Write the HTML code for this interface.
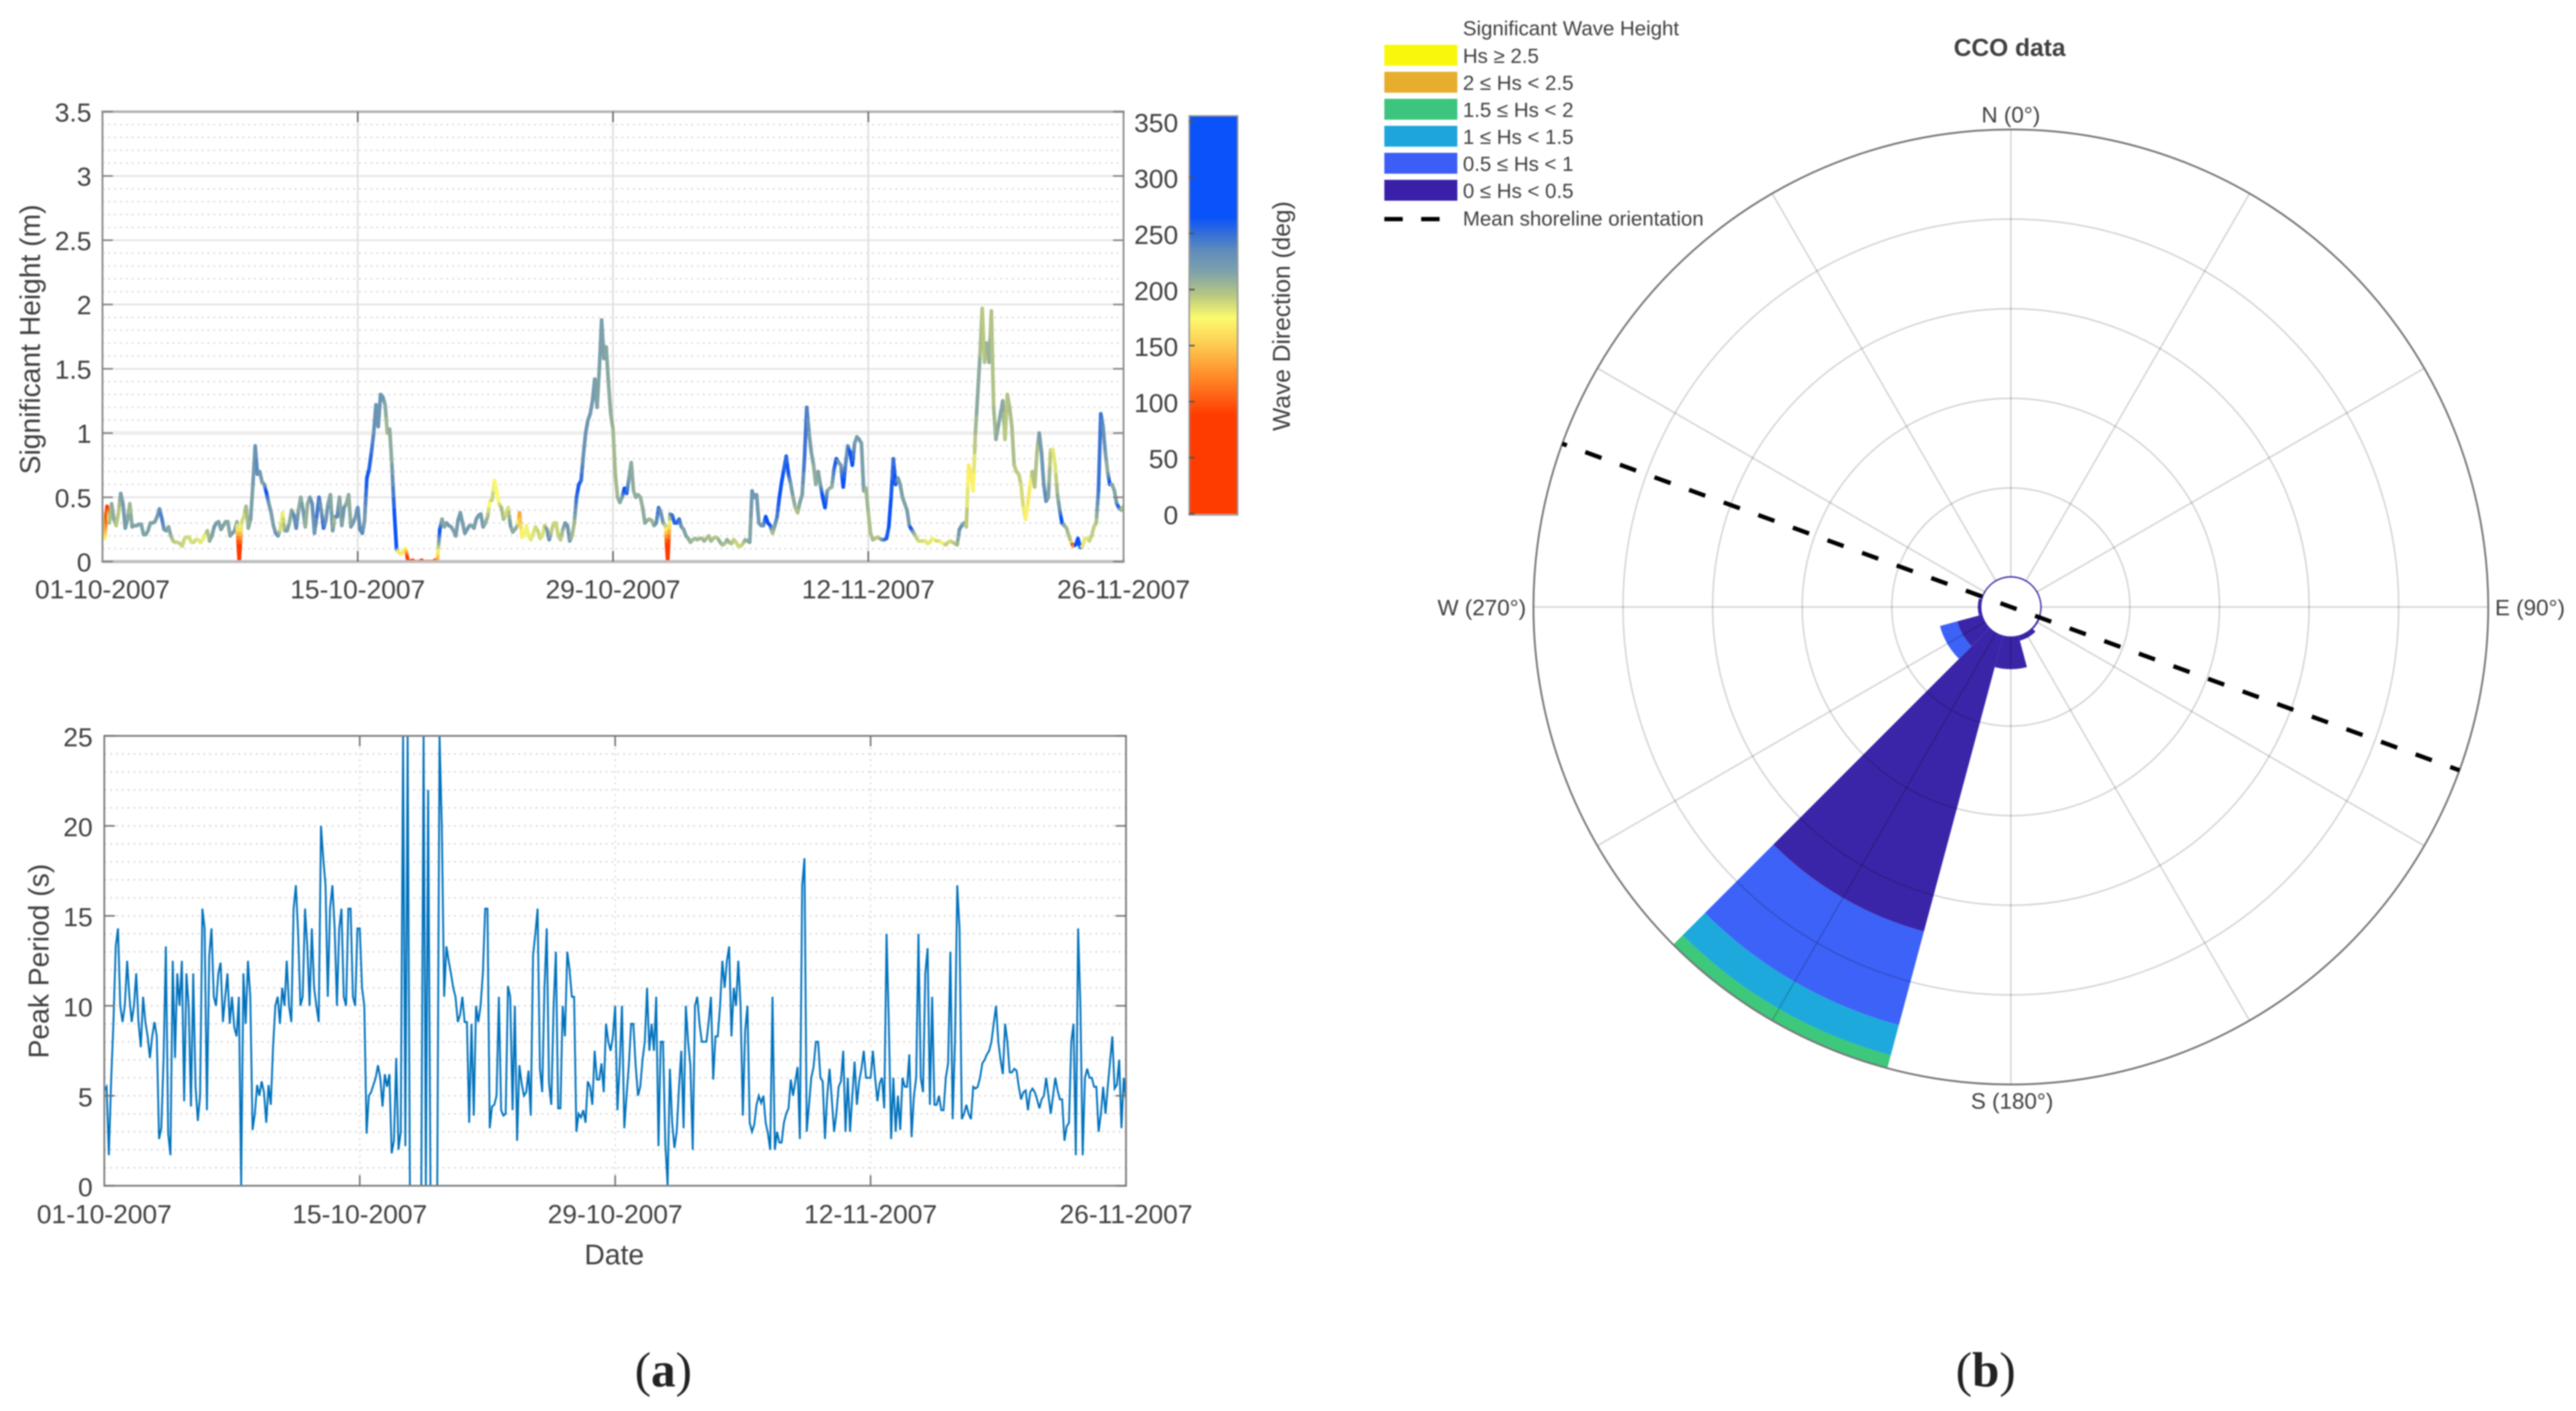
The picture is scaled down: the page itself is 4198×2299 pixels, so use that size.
<!DOCTYPE html>
<html lang="en">
<head>
<meta charset="utf-8">
<title>Wave time series and CCO wave rose</title>
<style>
html,body{margin:0;padding:0;background:#fff;width:4198px;height:2299px;overflow:hidden}
svg{display:block;font-family:"Liberation Sans",sans-serif;filter:blur(1.1px)}
text{fill:#404040}
.central{dominant-baseline:central}
</style>
</head>
<body>
<svg xmlns="http://www.w3.org/2000/svg" width="4198" height="2299" viewBox="0 0 4198 2299">
<defs>
<clipPath id="clipA"><rect x="167" y="182" width="1664" height="733"/></clipPath>
<clipPath id="clipB"><rect x="170" y="1199" width="1665" height="733"/></clipPath>
</defs>
<g id="chartA"></g>
<g id="colorbar"></g>
<g id="chartB"></g>
<g id="rose"></g>
<g id="legend"></g>
<text x="1081" y="2233" class="central" text-anchor="middle" style="font-family:'Liberation Serif',serif;font-size:80px;fill:#222">(<tspan font-weight="bold">a</tspan>)</text>
<text x="3236" y="2233" class="central" text-anchor="middle" style="font-family:'Liberation Serif',serif;font-size:80px;fill:#222">(<tspan font-weight="bold">b</tspan>)</text>
</svg>
<script>
// ---------- chart data ----------
const spanDays = 56;
const samplesPerDay = 8;
const dateTickDays = [0, 14, 28, 42, 56];
const dateTickLabels = ['01-10-2007', '15-10-2007', '29-10-2007', '12-11-2007', '26-11-2007'];
const hsTicks = [0, 0.5, 1, 1.5, 2, 2.5, 3, 3.5];
const tpTicks = [0, 5, 10, 15, 20, 25];
const dirTicks = [0, 50, 100, 150, 200, 250, 300, 350];

const hsValues = [
.38,.18,.43,.3,.45,.33,.28,.38,
.53,.45,.26,.33,.45,.27,.28,.28,
.29,.29,.21,.21,.24,.3,.3,.31,
.35,.41,.34,.25,.24,.27,.2,.16,
.15,.15,.14,.12,.18,.19,.19,.15,
.15,.17,.17,.15,.17,.21,.24,.16,
.2,.27,.3,.31,.25,.28,.31,.31,
.2,.22,.24,.31,0,.3,.35,.43,
.26,.33,.6,.9,.68,.7,.62,.6,
.53,.45,.38,.28,.22,.2,.25,.38,
.24,.24,.3,.4,.36,.26,.4,.5,
.4,.27,.45,.5,.45,.22,.35,.5,
.4,.26,.32,.45,.52,.24,.35,.35,
.5,.28,.42,.45,.52,.27,.3,.35,
.42,.25,.22,.32,.65,.72,.85,1,
1.22,1.05,1.3,1.28,1.22,1,1.03,.75,
.4,.1,.07,.06,.08,.1,.01,0,
.01,0,0,0,.01,0,0,0,
0,0,.01,.02,.25,.33,.27,.3,
.28,.27,.24,.2,.32,.38,.3,.22,
.25,.28,.28,.26,.33,.36,.37,.27,
.3,.35,.47,.48,.63,.55,.45,.42,
.33,.37,.42,.28,.23,.25,.28,.38,
.19,.2,.28,.2,.17,.22,.27,.24,
.18,.2,.28,.25,.17,.24,.3,.3,
.2,.17,.25,.3,.28,.16,.2,.3,
.5,.6,.63,.83,1,1.1,1.15,1.25,
1.42,1.2,1.5,1.88,1.58,1.67,1.39,1.15,
1.03,.68,.5,.46,.5,.57,.53,.65,
.77,.55,.5,.52,.5,.42,.3,.32,
.33,.32,.28,.3,.42,.38,.3,.28,
0,.37,.36,.3,.3,.33,.27,.25,
.2,.18,.15,.17,.18,.17,.18,.18,
.16,.18,.2,.16,.18,.19,.18,.15,
.13,.14,.17,.15,.14,.17,.15,.12,
.12,.14,.17,.16,.15,.55,.5,.52,
.3,.28,.28,.35,.3,.28,.22,.28,
.35,.5,.62,.72,.82,.68,.6,.5,
.42,.38,.46,.52,.8,1.2,1,.85,
.75,.6,.7,.6,.5,.42,.55,.57,
.58,.72,.8,.77,.75,.58,.75,.9,
.85,.75,.92,.97,.95,.92,.55,.57,
.38,.22,.17,.18,.19,.18,.17,.17,
.18,.27,.5,.8,.6,.65,.6,.5,
.45,.4,.28,.25,.22,.19,.16,.16,
.16,.16,.14,.15,.18,.17,.16,.16,
.15,.14,.13,.15,.16,.15,.14,.13,
.25,.28,.3,.27,.75,.7,.55,1,
1.3,1.6,1.97,1.55,1.7,1.55,1.95,1.2,
.95,1.05,1.15,1.25,.95,1.3,1.2,1.05,
.75,.7,.68,.6,.42,.33,.45,.6,
.7,.58,.85,1,.85,.6,.47,.5,
.87,.87,.75,.52,.4,.3,.28,.26,
.2,.15,.12,.13,.18,.11,.12,.18,
.18,.16,.2,.27,.3,.55,1.15,1.05,
.85,.7,.6,.6,.55,.45,.42,.4,
.43];

const dirValues = [
195,175,60,195,205,215,200,190,
215,220,225,215,200,215,220,215,
215,215,215,215,215,215,215,215,
220,225,245,230,220,215,210,195,
195,190,190,195,185,190,190,185,
185,190,185,180,185,175,195,205,
215,220,225,215,215,215,215,210,
215,215,220,215,0,190,185,200,
205,215,220,225,240,225,220,215,
270,225,220,215,225,235,190,175,
205,220,215,205,230,240,215,205,
225,210,205,215,235,220,240,250,
220,255,230,220,210,225,195,240,
215,210,230,215,205,215,225,215,
230,235,240,215,265,260,250,235,
225,230,225,230,215,200,205,215,
260,270,160,170,160,185,60,0,
0,0,0,0,0,0,0,0,
0,0,0,130,270,215,210,215,
225,220,215,215,225,225,215,225,
220,225,215,215,220,225,215,225,
210,205,170,195,175,170,180,195,
205,190,180,225,205,215,205,130,
175,180,175,180,180,185,185,190,
190,185,185,215,235,195,190,185,
195,190,205,220,225,225,205,200,
250,265,255,225,230,225,220,225,
220,215,215,220,215,215,210,210,
205,200,205,210,215,270,260,220,
210,210,205,215,205,210,210,215,
205,205,205,225,250,230,225,200,
0,210,245,260,250,255,230,215,
215,215,205,205,200,205,205,200,
205,205,195,205,200,195,195,210,
205,195,205,210,200,195,190,190,
190,190,205,210,210,225,225,225,
220,225,220,265,270,275,195,215,
240,265,275,260,250,265,225,215,
205,195,215,215,250,245,225,215,
215,205,215,215,270,280,225,205,
205,245,270,225,215,280,240,225,
265,270,225,215,225,220,215,205,
205,195,205,200,195,195,215,240,
255,265,265,245,270,225,220,215,
215,215,225,270,215,195,190,185,
190,185,180,185,180,175,185,190,
180,175,190,195,185,190,195,200,
225,235,220,200,165,170,165,200,
215,205,195,195,200,210,195,200,
205,215,210,215,190,200,195,205,
195,195,195,190,185,175,165,165,
195,200,195,215,225,225,240,220,
190,185,180,205,225,280,215,205,
200,195,60,270,280,280,185,180,
180,185,195,190,195,245,250,235,
225,205,270,215,210,225,265,210,
190];

const tpValues = [
5.3,5.5,1.7,5.8,9.1,13.3,14.3,10,
9.1,10,12.5,10.5,9.1,10,11.8,9.1,
7.7,10.5,9.1,8.3,7.1,8.3,9.1,8.3,
2.6,3.2,7.1,13.3,2.9,1.7,12.5,7.1,
11.8,10,12.5,4.7,11.8,10,4.4,11.8,
5.5,3.6,5,15.4,14.3,4.2,12.8,14.3,
10.5,10,11.8,12.4,9.1,10.5,11.8,9,
10.5,8.8,8.3,10.5,0,11.8,9,12.5,
10.5,3.1,4,5.6,5,5.8,5.2,3.5,
5.6,4.5,7.7,10,10.5,9,11,10,
12.5,10,9.1,15.4,16.7,14,10,10.5,
15.4,13.3,10,14.3,11,10,9.1,20,
18.2,16.7,10.5,15.4,16.7,14.3,10,14.3,
15.4,10.5,10,15.4,15.4,10.5,10,14.3,
14.3,11,10,2.9,5,5.2,5.6,6,
6.7,6,4.4,6.2,5.5,6.2,1.8,2.5,
7.1,2,3,25,2.2,25,0,0,
0,0,0,0,25,0,22,0,
0,0,0,25,20,10.5,13.3,12.5,
11.8,11,10.5,9.1,9.5,10.5,9.1,9.1,
3.5,9,3.9,10,9.1,10,11.8,15.4,
15.4,3.2,4.4,4.5,5,10.5,4.2,3.9,
4,11.1,10.5,4.2,10,2.5,6.7,5.7,
5,5.2,6.4,3.9,12.8,14,15.4,6.5,
5.2,11,14.3,5.7,4.5,10,13,4.3,
4.3,10,8.3,13,12,10.5,10.5,3,
4,3.8,4.2,3.5,5.8,5.5,4.5,7.5,
5.9,5.9,6.8,5.2,9,8,7.5,8.3,
10,4.2,6.7,10,3.2,5,6.7,9,
9,6.7,5,5.5,7,8,11,7.5,
9,7.5,10.5,2.2,8,8,2.3,0,
6.5,3.5,2.1,3,5.5,7.5,3.2,10,
8,6.7,2,10,10.5,9,8,8,
8,9.1,10.5,5.9,8.3,8.3,10,12.5,
11,12.5,13.3,8.3,11,10,12.5,10,
3.9,8.6,10,3.5,3,3.4,4.5,5,
4.6,5,3.5,2.9,2,10.5,2,3,
2.4,2.4,3.5,4,4.3,5.9,5,5.8,
6.6,2.6,16.7,18.2,3,4.5,6,6.6,
8,8,6,5.8,2.6,5,6.5,4.8,
3,4,5.5,5.8,7.5,3,6,3,
5,6.9,4.5,5.8,6.5,7.5,6,6,
6,7.5,6,4.7,5.7,6,4.3,14,
9,2.6,6,3,5,3.1,6,5.5,
5.5,7.3,2.7,5,6,14,6,5.2,
11.8,13.2,4.5,10.5,4.5,4.5,5,4.2,
4.2,6,6.8,13,3.7,8,16.7,14.3,
3.7,4,4.5,4,3.7,5.5,5.4,5.5,
6,6.8,7,7.3,7.5,8,9,10,
8,7,6.2,9,8,6.3,6.3,6.5,
6.4,5.5,4.8,5.2,5.3,4.2,5.2,5.4,
5.2,4.8,4.3,4.8,5,6,5,4,
5,6,5.3,4.8,4.8,2.5,3.3,3.5,
8,9,1.7,14.3,10,1.7,6,6.5,
6,6,5.5,5.5,3,4,5.5,4,
5.5,6.9,8.3,5.4,5.6,7,3.2,6,
4.8];

// wave rose: per-sector share of each height band (sector centre bearing, degrees)
const roseBearings = [0, 30, 60, 90, 120, 150, 180, 210, 240, 270, 300, 330];
const band0to05 = [.3, .3, .3, .3, .4, 1.2, 7.3, 68.4, 5.8, .8, .3, .3];
const band05to1 = [0, 0, 0, 0, 0, 0, 0, 21.6, 4, 0, 0, 0];
const band1to15 = [0, 0, 0, 0, 0, 0, 0, 7, 0, 0, 0, 0];
const band15to2 = [0, 0, 0, 0, 0, 0, 0, 3, 0, 0, 0, 0];
const roseSeries = [band0to05, band05to1, band1to15, band15to2];
const shorelineBearing = 290;
const roseRings = [20, 40, 60, 80];
const compassBearings = [0, 90, 180, 270];
const compassLabels = ['N (0°)', 'E (90°)', 'S (180°)', 'W (270°)'];
const legendTitle = 'Significant Wave Height';
const legendLabels = ['Hs ≥ 2.5', '2 ≤ Hs < 2.5', '1.5 ≤ Hs < 2', '1 ≤ Hs < 1.5', '0.5 ≤ Hs < 1', '0 ≤ Hs < 0.5'];

// ---------- scales ----------
const NS = 'http://www.w3.org/2000/svg';
const xA = d => 167 + d / spanDays * 1664;
const yA = v => 915 - v / 3.5 * 733;
const xB = d => 170 + d / spanDays * 1665;
const yB = v => 1932 - v / 25 * 733;
const yDir = v => 837 - v * 1.826;
const cx = 3277, cy = 989, rHub = 48, rOuter = 778;
const rScale = p => rHub + p * (rOuter - rHub) / 100;
const polar = (deg, r) => [cx + r * Math.sin(deg * Math.PI / 180), cy - r * Math.cos(deg * Math.PI / 180)];

const colorStops = [[0,[255,60,0]],[88,[255,60,0]],[108,[255,105,25]],[130,[255,155,50]],[152,[253,205,85]],[175,[251,251,110]],[195,[185,200,130]],[215,[128,163,168]],[235,[95,140,188]],[265,[10,82,250]],[360,[10,82,250]]];
function dirColor(v) {
  for (let i = 1; i < colorStops.length; i++) {
    if (v <= colorStops[i][0]) {
      const a = colorStops[i - 1], b = colorStops[i], t = (v - a[0]) / (b[0] - a[0]);
      return 'rgb(' + a[1].map((c, k) => Math.round(c + (b[1][k] - c) * t)).join(',') + ')';
    }
  }
  return 'rgb(10,82,250)';
}
function make(tag, parent, attrs, text) {
  const el = document.createElementNS(NS, tag);
  for (const k in attrs) el.setAttribute(k, attrs[k]);
  if (text !== undefined) el.textContent = text;
  parent.appendChild(el);
  return el;
}
function line(parent, x1, y1, x2, y2, stroke, width, dash) {
  const a = {x1: x1, y1: y1, x2: x2, y2: y2, stroke: stroke, 'stroke-width': width};
  if (dash) a['stroke-dasharray'] = dash;
  return make('line', parent, a);
}

// ---------- top chart ----------
const gA = document.getElementById('chartA');
for (let v = 0; v <= 35; v++) {
  if (v % 5 === 0) continue;
  const el = line(gA, 167, yA(v / 10), 1831, yA(v / 10), '#dcdcdc', 2.5, '3 6.5');
  
  
}
hsTicks.forEach(v => {
  const el = line(gA, 167, yA(v), 1831, yA(v), v === 1 ? '#eeeeee' : '#e6e6e6', v === 1 ? 6 : 3);
  
  
});
dateTickDays.slice(1, 4).forEach(d => {
  const el = line(gA, xA(d), 182, xA(d), 915, '#dddddd', 2.5);
  
  
});
const hsSeries = make('g', gA, {'clip-path': 'url(#clipA)', 'stroke-linecap': 'round', fill: 'none'});


for (let i = 0; i + 1 < hsValues.length; i++) {
  const d0 = dirValues[i], d1 = dirValues[i + 1];
  const parts = Math.max(1, Math.min(10, Math.ceil(Math.abs(d1 - d0) / 12)));
  for (let k = 0; k < parts; k++) {
    const t0 = k / parts, t1 = (k + 1) / parts;
    const day0 = (i + t0) / samplesPerDay, day1 = (i + t1) / samplesPerDay;
    const v0 = hsValues[i] + (hsValues[i + 1] - hsValues[i]) * t0;
    const v1 = hsValues[i] + (hsValues[i + 1] - hsValues[i]) * t1;
    const seg = line(hsSeries, xA(day0), yA(v0), xA(day1), yA(v1), dirColor(d0 + (d1 - d0) * (t0 + t1) / 2), 6);
    
    
  }
}
const frameA = make('g', gA, {});


line(frameA, 165, 182, 1833, 182, '#b0b0b0', 4);
line(frameA, 165, 915, 1833, 915, '#bdbdbd', 5);
line(frameA, 167, 182, 167, 915, '#8c8c8c', 3);
line(frameA, 1831, 182, 1831, 915, '#808080', 2.5);
hsTicks.forEach(v => {
  line(frameA, 167, yA(v), 184, yA(v), '#808080', 2.5);
  line(frameA, 1814, yA(v), 1831, yA(v), '#808080', 2.5);
  const el = make('text', gA, {x: 149, y: yA(v) + 2, 'text-anchor': 'end', class: 'central', 'font-size': 43}, String(v));
  
  
});
dateTickDays.forEach((d, i) => {
  if (i > 0 && i < 4) {
    line(frameA, xA(d), 182, xA(d), 199, '#666', 2.5);
    line(frameA, xA(d), 898, xA(d), 915, '#666', 2.5);
  }
  const el = make('text', gA, {x: xA(d), y: 961, 'text-anchor': 'middle', class: 'central', 'font-size': 43}, dateTickLabels[i]);
  
  
});
const titleA = make('text', gA, {transform: 'translate(49 553) rotate(-90)', 'text-anchor': 'middle', class: 'central', 'font-size': 46}, 'Significant Height (m)');



// ---------- colour bar ----------
const gC = document.getElementById('colorbar');
for (let v = 0; v < 355; v++) {
  const el = make('rect', gC, {x: 1938, y: yDir(v + 1), width: 79, height: 2.2, fill: dirColor(v + 0.5)});
  
  
}
const cbFrame = make('rect', gC, {x: 1938, y: yDir(355), width: 79, height: yDir(0) - yDir(355) + 2, fill: 'none', stroke: '#9a9a9a', 'stroke-width': 2.5});


dirTicks.forEach(v => {
  const tick = line(gC, 1938, yDir(v), 1947, yDir(v), '#555', 2.5);
  
  
  const el = make('text', gC, {x: 1920, y: yDir(v) + 3, 'text-anchor': 'end', class: 'central', 'font-size': 43}, String(v));
  
  
});
const titleC = make('text', gC, {transform: 'translate(2089 515) rotate(-90)', 'text-anchor': 'middle', class: 'central', 'font-size': 40}, 'Wave Direction (deg)');



// ---------- bottom chart ----------
const gB = document.getElementById('chartB');
for (let v = 1; v < 25; v++) {
  const el = line(gB, 170, yB(v), 1835, yB(v), '#d8d8d8', 2.5, '3 6.5');
  
  
}
dateTickDays.slice(1, 4).forEach(d => {
  const el = line(gB, xB(d), 1199, xB(d), 1932, '#dddddd', 2.5, '3 6.5');
  
  
});
const tpPts = tpValues.map((v, i) => xB(i / samplesPerDay).toFixed(1) + ',' + yB(v).toFixed(1)).join(' ');
const tpLine = make('polyline', gB, {points: tpPts, fill: 'none', stroke: '#0072bd', 'stroke-width': 3, 'stroke-linejoin': 'miter', 'clip-path': 'url(#clipB)'});


const frameB = make('rect', gB, {x: 170, y: 1199, width: 1665, height: 733, fill: 'none', stroke: '#808080', 'stroke-width': 3});


tpTicks.forEach(v => {
  const t1 = line(gB, 170, yB(v), 187, yB(v), '#707070', 2.5);
  
  
  const t2 = line(gB, 1818, yB(v), 1835, yB(v), '#707070', 2.5);
  
  
  const el = make('text', gB, {x: 151, y: yB(v) + 3, 'text-anchor': 'end', class: 'central', 'font-size': 43}, String(v));
  
  
});
dateTickDays.forEach((d, i) => {
  if (i > 0 && i < 4) {
    const t1 = line(gB, xB(d), 1199, xB(d), 1216, '#707070', 2.5);
    
    
    const t2 = line(gB, xB(d), 1915, xB(d), 1932, '#707070', 2.5);
    
    
  }
  const el = make('text', gB, {x: xB(d), y: 1979, 'text-anchor': 'middle', class: 'central', 'font-size': 43}, dateTickLabels[i]);
  
  
});
const titleB = make('text', gB, {transform: 'translate(63 1566) rotate(-90)', 'text-anchor': 'middle', class: 'central', 'font-size': 46}, 'Peak Period (s)');


const titleX = make('text', gB, {x: 1001, y: 2044, 'text-anchor': 'middle', class: 'central', 'font-size': 46}, 'Date');



// ---------- wave rose ----------
const gR = document.getElementById('rose');
const bandColors = ['#3a25a8', '#3d62f8', '#1ea9dc', '#3dc87c'];
const sectorHalf = 15;
roseBearings.forEach((b, s) => {
  let base = 0;
  roseSeries.forEach((band, k) => {
    const v = band[s];
    if (v <= 0) return;
    const r0 = rScale(base), r1 = rScale(base + v);
    const p1 = polar(b - sectorHalf, r0), p2 = polar(b - sectorHalf, r1), p3 = polar(b + sectorHalf, r1), p4 = polar(b + sectorHalf, r0);
    const d = 'M' + p1.join(' ') + 'L' + p2.join(' ') + 'A' + r1 + ' ' + r1 + ' 0 0 1 ' + p3.join(' ') + 'L' + p4.join(' ') + 'A' + r0 + ' ' + r0 + ' 0 0 0 ' + p1.join(' ') + 'Z';
    const el = make('path', gR, {d: d, fill: bandColors[k]});
    
    
    base += v;
  });
});
for (let b = 0; b < 360; b += 30) {
  const p0 = polar(b, rScale(0)), p1 = polar(b, rOuter);
  const el = line(gR, p0[0], p0[1], p1[0], p1[1], 'rgba(0,0,0,0.17)', 2.5);
  
  
}
roseRings.forEach(p => {
  const el = make('circle', gR, {cx: cx, cy: cy, r: rScale(p), fill: 'none', stroke: 'rgba(0,0,0,0.17)', 'stroke-width': 2.5});
  
  
});
const outer = make('circle', gR, {cx: cx, cy: cy, r: rOuter, fill: 'none', stroke: '#777', 'stroke-width': 3});


const sA = polar(shorelineBearing, rOuter), sB = polar(shorelineBearing - 180, rOuter);
const shore = line(gR, sA[0], sA[1], sB[0], sB[1], '#000', 7, '28 32');
shore.setAttribute('stroke-dashoffset', '20');


compassBearings.forEach((b, i) => {
  const pos = [[3277, 187, 'middle'], [4066, 990, 'start'], [3279, 1794, 'middle'], [2487, 990, 'end']][i];
  const el = make('text', gR, {x: pos[0], y: pos[1], 'text-anchor': pos[2], class: 'central', 'font-size': 36.5}, compassLabels[i]);
  
  
});
const roseTitle = make('text', gR, {x: 3275, y: 78, 'text-anchor': 'middle', class: 'central', 'font-size': 40, 'font-weight': 'bold'}, 'CCO data');



// ---------- legend ----------
const gL = document.getElementById('legend');
const swatchColors = ['#f8f70c', '#e6ae2c', '#3dc47f', '#1ea6dc', '#3d5ef6', '#3a20a8'];
const lt = make('text', gL, {x: 2384, y: 47, class: 'central', 'font-size': 33.3}, legendTitle);


legendLabels.forEach((label, i) => {
  const yc = 90 + i * 44;
  const sw = make('rect', gL, {x: 2256, y: yc - 17, width: 119, height: 34, fill: swatchColors[i]});
  
  
  const tx = make('text', gL, {x: 2384, y: yc + 2, class: 'central', 'font-size': 33.3}, label);
  
  
});
const legDash = line(gL, 2256, 357, 2375, 357, '#000', 7, '30 30');


const legShore = make('text', gL, {x: 2384, y: 357, class: 'central', 'font-size': 33.3}, 'Mean shoreline orientation');


</script>
</body>
</html>
